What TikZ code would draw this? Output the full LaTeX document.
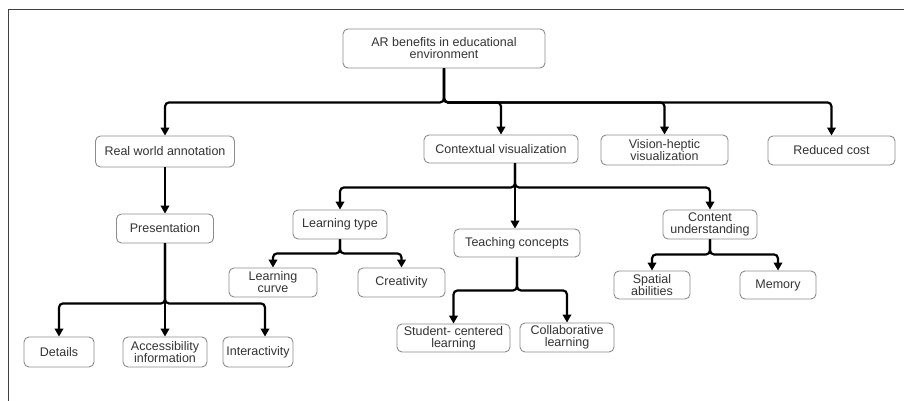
\documentclass[tikz,border=0pt]{standalone}
\usepackage{fontspec}
\setmainfont{Liberation Sans}
\usetikzlibrary{arrows.meta}

\definecolor{boxline}{HTML}{8C8C8C}
\definecolor{boxtext}{HTML}{333333}

\tikzset{
  box/.style={draw=boxline, line width=0.9pt, rounded corners=5pt, align=center,
    inner sep=1pt, text=boxtext, font=\fontsize{12.5}{12}\selectfont},
  conn/.style={line width=2.2pt, rounded corners=4pt, -{Triangle[length=8pt,width=8.5pt]}},
}

\begin{document}
\begin{tikzpicture}[x=1pt, y=-1pt]
\useasboundingbox (0,0) rectangle (904,401);
% Frame
\draw[line width=1pt, black!75] (8,401) -- (8,10) -- (904,10);

% Root
\node[box, minimum width=202pt, minimum height=39pt] (root) at (444,48.5) {AR benefits in educational\\environment};

% First level
\node[box, minimum width=139pt, minimum height=31pt] (rwa) at (165,151.5) {Real world annotation};
\node[box, minimum width=154pt, minimum height=28pt] (ctx) at (501,149) {Contextual visualization};
\node[box, minimum width=127pt, minimum height=30pt] (vis) at (664.5,150) {Vision-heptic\\visualization};
\node[box, minimum width=127pt, minimum height=29pt] (cost) at (831.5,150.5) {Reduced cost};

% Real world annotation branch
\node[box, minimum width=97pt, minimum height=29pt] (pres) at (165,228.5) {Presentation};
\node[box, minimum width=70pt, minimum height=30pt] (det) at (59,352) {Details};
\node[box, minimum width=84pt, minimum height=30pt] (acc) at (165,352) {Accessibility\\information};
\node[box, minimum width=70pt, minimum height=30pt] (inter) at (258,352) {Interactivity};

% Contextual visualization branch
\node[box, minimum width=94pt, minimum height=29pt] (ltype) at (340,224.5) {Learning type};
\node[box, minimum width=88pt, minimum height=29pt] (lcurve) at (273,282.5) {Learning\\curve};
\node[box, minimum width=87pt, minimum height=29pt] (creat) at (401.5,282.5) {Creativity};
\node[box, minimum width=126pt, minimum height=28pt] (teach) at (517,243) {Teaching concepts};
\node[box, minimum width=113pt, minimum height=28pt] (stud) at (453.5,338) {Student- centered\\learning};
\node[box, minimum width=94pt, minimum height=29pt] (collab) at (567,337.5) {Collaborative\\learning};
\node[box, minimum width=94pt, minimum height=29pt] (content) at (710,224.5) {Content\\understanding};
\node[box, minimum width=76pt, minimum height=28pt] (spatial) at (652,285) {Spatial\\abilities};
\node[box, minimum width=76pt, minimum height=28pt] (memory) at (778,285) {Memory};

% Connectors from root
\draw[conn] (root.south) -- ++(0,34) -| (rwa.north);
\draw[conn] (root.south) -- ++(0,34) -| (ctx.north);
\draw[conn] (root.south) -- ++(0,34) -| (vis.north);
\draw[conn] (root.south) -- ++(0,34) -| (cost.north);

% Real world annotation connectors
\draw[conn] (rwa.south) -- (pres.north);
\draw[conn] (pres.south) -- ++(0,60) -| (det.north);
\draw[conn] (pres.south) -- (acc.north);
\draw[conn] (pres.south) -- ++(0,60) -| ([xshift=7pt]inter.north);

% Contextual visualization connectors
\draw[conn] ([xshift=14pt]ctx.south) -- ++(0,24) -| (ltype.north);
\draw[conn] ([xshift=14pt]ctx.south) -- ([xshift=14pt]ctx.south |- teach.north);
\draw[conn] ([xshift=14pt]ctx.south) -- ++(0,24) -| (content.north);
\draw[conn] (ltype.south) -- ++(0,14) -| (lcurve.north);
\draw[conn] (ltype.south) -- ++(0,14) -| (creat.north);
\draw[conn] (teach.south) -- ++(0,33) -| (stud.north);
\draw[conn] (teach.south) -- ++(0,33) -| (collab.north);
\draw[conn] (content.south) -- ++(0,15) -| (spatial.north);
\draw[conn] (content.south) -- ++(0,15) -| (memory.north);
\end{tikzpicture}
\end{document}
